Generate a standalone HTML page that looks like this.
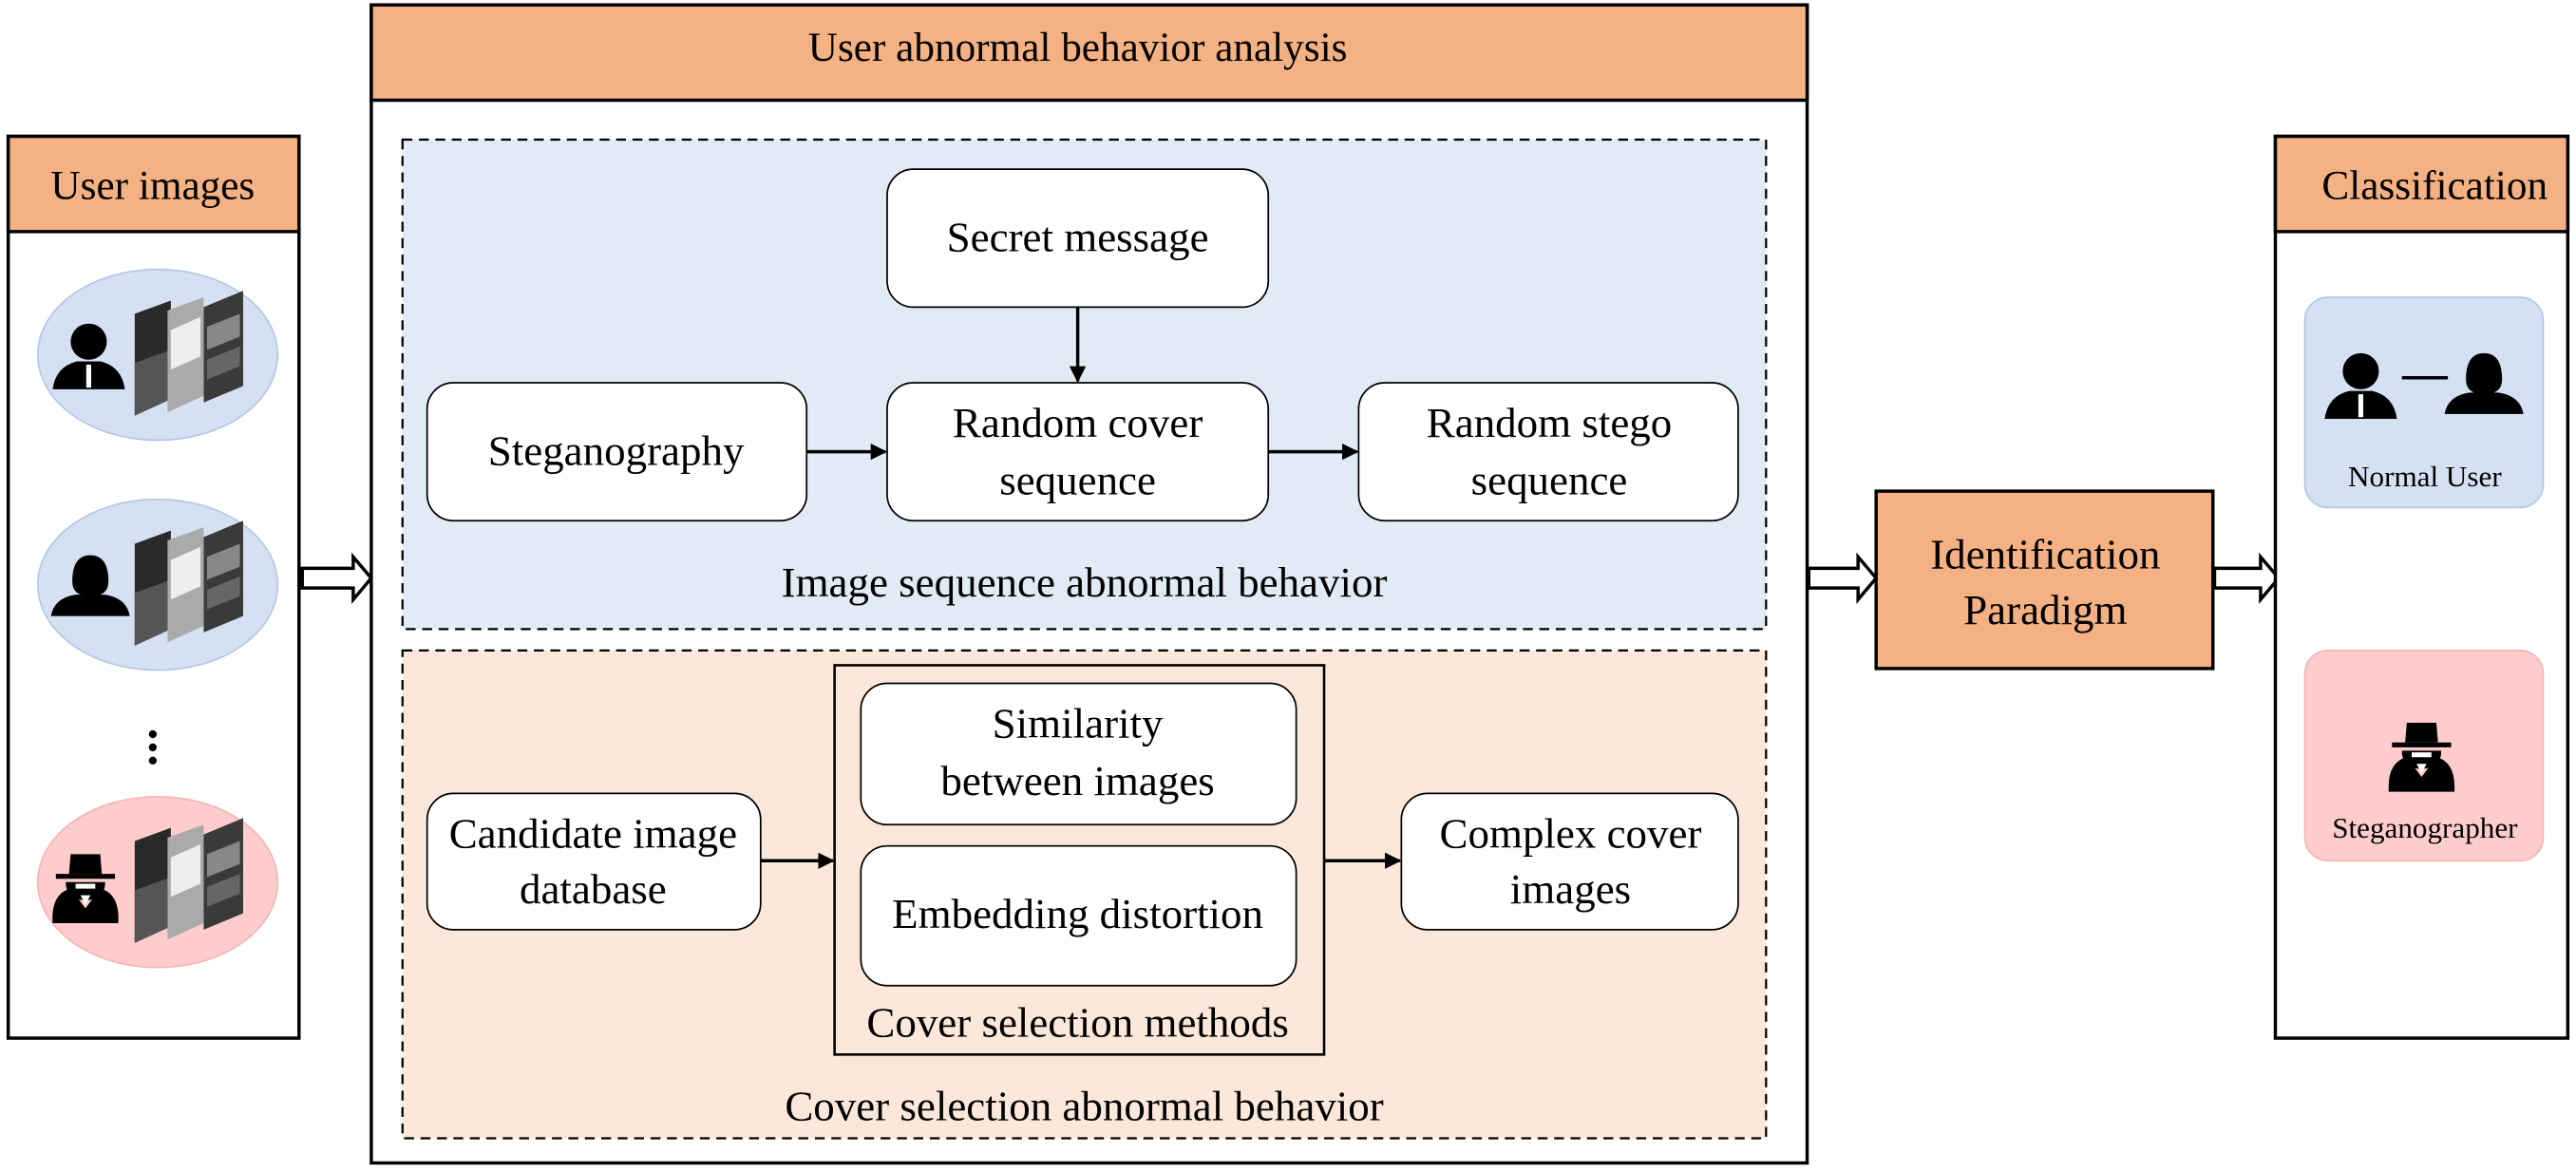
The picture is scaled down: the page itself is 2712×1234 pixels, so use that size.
<!DOCTYPE html>
<html><head><meta charset="utf-8"><style>
html,body{margin:0;padding:0;background:#fff;}
svg{display:block;}
svg text{font-family:"Liberation Serif","Times New Roman","DejaVu Serif","Noto Serif CJK SC",serif;}
</style></head><body>
<svg width="2712" height="1234" viewBox="0 0 1568 713.5" preserveAspectRatio="none" xmlns="http://www.w3.org/2000/svg">
<defs>
<marker id="ah" markerWidth="10" markerHeight="10" refX="9" refY="5" orient="auto" markerUnits="userSpaceOnUse">
<path d="M0,0 L10,5 L0,10 Z" fill="#000"/>
</marker>
<g id="stack">
<polygon points="0,8 22,0 22,60 0,70" fill="#2a2a2a"/>
<polygon points="0,38 22,30 22,60 0,70" fill="#555"/>
<polygon points="20,6 42,-2 42,58 20,68" fill="#aaa"/>
<polygon points="22,18 40,10 40,34 22,42" fill="#eee"/>
<polygon points="42,4 66,-6 66,52 42,62" fill="#3a3a3a"/>
<polygon points="44,16 64,8 64,22 44,30" fill="#888"/>
<polygon points="44,36 64,28 64,40 44,48" fill="#666"/>
</g>
<g id="man">
<circle cx="0" cy="-12" r="11"/>
<path d="M-22,17 Q-20,3 -7,0 L7,0 Q20,3 22,17 Z"/>
<path d="M-1.5,2 L1.5,2 L1.5,16 L-1.5,16 Z" fill="#fff"/>
</g>
<g id="woman">
<path d="M-11,-6 Q-11,-22 0,-22 Q11,-22 11,-6 Q11,3 0,3 Q-11,3 -11,-6 Z"/>
<path d="M-24,15 Q-22,4 -9,2 L9,2 Q22,4 24,15 Z"/>
</g>
<g id="spy">
<path d="M-18,-9 L18,-9 L18,-6 L-18,-6 Z"/>
<path d="M-10,-9 L-9,-21 L9,-21 L10,-9 Z"/>
<path d="M-12,-4 Q-12,7 0,7 Q12,7 12,-4 Z"/>
<path d="M-6,-3 L6,-3 L6,0 L-6,0 Z" fill="#fff"/>
<path d="M-20,21 Q-21,3 -9,0 L0,12 L9,0 Q21,3 20,21 Z"/>
<path d="M-3,4 L3,4 L0,10 Z" fill="#fff"/>
</g>
</defs>

<rect x="5" y="83" width="177" height="549" fill="#fff" stroke="#000" stroke-width="2"/>
<rect x="5" y="83" width="177" height="58" fill="#F4B183" stroke="#000" stroke-width="2"/>
<text x="93" y="121" font-size="25" text-anchor="middle">User images</text>
<ellipse cx="96" cy="216" rx="73" ry="52" fill="#D6E0F3" stroke="#B4C7E7" stroke-width="1"/>
<ellipse cx="96" cy="356" rx="73" ry="52" fill="#D6E0F3" stroke="#B4C7E7" stroke-width="1"/>
<ellipse cx="96" cy="537" rx="73" ry="52" fill="#FFCCCC" stroke="#F4B6B6" stroke-width="1"/>
<use href="#man" x="54" y="220"/>
<use href="#woman" x="55" y="360"/>
<use href="#spy" x="52" y="541"/>
<use href="#stack" x="82" y="183"/>
<use href="#stack" x="82" y="323"/>
<use href="#stack" x="82" y="504"/>
<circle cx="93" cy="447" r="2.4"/><circle cx="93" cy="455" r="2.4"/><circle cx="93" cy="463" r="2.4"/>

<path d="M184,346 L215,346 L215,339 L226,352 L215,365 L215,358 L184,358 Z" fill="#fff" stroke="#000" stroke-width="2"/>
<path d="M1101,346 L1131,346 L1131,339 L1142,352 L1131,365 L1131,358 L1101,358 Z" fill="#fff" stroke="#000" stroke-width="2"/>
<path d="M1348,346 L1376,346 L1376,339 L1387,352 L1376,365 L1376,358 L1348,358 Z" fill="#fff" stroke="#000" stroke-width="2"/>

<rect x="226" y="3" width="874" height="705" fill="#fff" stroke="#000" stroke-width="2"/>
<rect x="226" y="3" width="874" height="58" fill="#F4B183" stroke="#000" stroke-width="2"/>
<text x="656" y="37" font-size="25" text-anchor="middle">User abnormal behavior analysis</text>

<rect x="245" y="85" width="830" height="298" fill="#E0EBF5" stroke="#000" stroke-width="1.3" stroke-dasharray="6,4"/>
<rect x="245" y="396" width="830" height="297" fill="#FBE8DA" stroke="#000" stroke-width="1.3" stroke-dasharray="6,4"/>

<g fill="#fff" stroke="#000" stroke-width="1">
<rect x="540" y="103" width="232" height="84" rx="16"/>
<rect x="260" y="233" width="231" height="84" rx="16"/>
<rect x="540" y="233" width="232" height="84" rx="16"/>
<rect x="827" y="233" width="231" height="84" rx="16"/>
<rect x="260" y="483" width="203" height="83" rx="16"/>
<rect x="853" y="483" width="205" height="83" rx="16"/>
</g>
<rect x="508" y="405" width="298" height="237" fill="none" stroke="#000" stroke-width="1.5"/>
<rect x="524" y="416" width="265" height="86" rx="16" fill="#fff" stroke="#000" stroke-width="1"/>
<rect x="524" y="515" width="265" height="85" rx="16" fill="#fff" stroke="#000" stroke-width="1"/>

<g font-size="26" text-anchor="middle">
<text x="656" y="153">Secret message</text>
<text x="375" y="283">Steganography</text>
<text x="656" y="266">Random cover</text>
<text x="656" y="301">sequence</text>
<text x="943" y="266">Random stego</text>
<text x="943" y="301">sequence</text>
<text x="660" y="363">Image sequence abnormal behavior</text>
<text x="361" y="516">Candidate image</text>
<text x="361" y="550">database</text>
<text x="656" y="449">Similarity</text>
<text x="656" y="484">between images</text>
<text x="656" y="565">Embedding distortion</text>
<text x="656" y="631">Cover selection methods</text>
<text x="956" y="516">Complex cover</text>
<text x="956" y="550">images</text>
<text x="660" y="682">Cover selection abnormal behavior</text>
</g>

<g stroke="#000" stroke-width="2" marker-end="url(#ah)">
<line x1="656" y1="187" x2="656" y2="232"/>
<line x1="491" y1="275" x2="539" y2="275"/>
<line x1="772" y1="275" x2="826" y2="275"/>
<line x1="463" y1="524" x2="507" y2="524"/>
<line x1="806" y1="524" x2="852" y2="524"/>
</g>

<rect x="1142" y="299" width="205" height="108" fill="#F4B183" stroke="#000" stroke-width="2"/>
<text x="1245" y="346" font-size="26" text-anchor="middle">Identification</text>
<text x="1245" y="380" font-size="26" text-anchor="middle">Paradigm</text>

<rect x="1385" y="83" width="178" height="549" fill="#fff" stroke="#000" stroke-width="2"/>
<rect x="1385" y="83" width="178" height="58" fill="#F4B183" stroke="#000" stroke-width="2"/>
<text x="1482" y="121" font-size="25" text-anchor="middle">Classification</text>
<rect x="1403" y="181" width="145" height="128" rx="14" fill="#D6E0F3" stroke="#B4C7E7" stroke-width="1"/>
<rect x="1403" y="396" width="145" height="128" rx="14" fill="#FFCCCC" stroke="#F4B6B6" stroke-width="1"/>
<use href="#man" x="1437" y="238"/>
<use href="#woman" x="1512" y="237"/>
<line x1="1462" y1="230" x2="1490" y2="230" stroke="#000" stroke-width="2"/>
<text x="1476" y="296" font-size="18" text-anchor="middle">Normal User</text>
<use href="#spy" x="1474" y="461"/>
<text x="1476" y="510" font-size="18" text-anchor="middle">Steganographer</text>
</svg>
</body></html>
